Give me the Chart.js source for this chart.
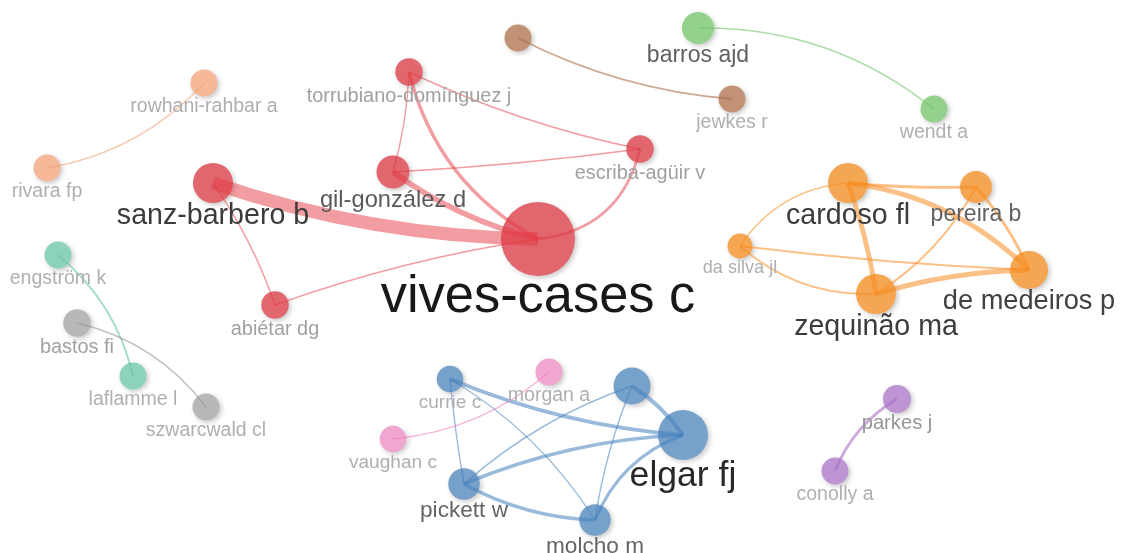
<!DOCTYPE html>
<html>
<head>
<meta charset="utf-8">
<script src="https://cdn.jsdelivr.net/npm/chart.js@4.4.1/dist/chart.umd.min.js"></script>
<style>
  html, body { margin: 0; padding: 0; background: #fff; }
  #wrap { width: 1125px; height: 553px; position: relative; }
</style>
</head>
<body>
<div id="wrap"><canvas id="chart"></canvas></div>
<script>
//////////////////////
// Nodes (authors)
//////////////////////
const labels = [
    "vives-cases c", "sanz-barbero b", "gil-gonzález d", "torrubiano-domínguez j", "escriba-agüir v", "abiétar dg",
    "cardoso fl", "pereira b", "da silva jl", "de medeiros p", "zequinão ma",
    "elgar fj", "currie c", "", "pickett w", "molcho m",
    "morgan a", "vaughan c", "parkes j", "conolly a", "barros ajd", "wendt a",
    "", "jewkes r", "rowhani-rahbar a", "rivara fp", "engström k", "laflamme l",
    "bastos fi", "szwarcwald cl"
];
const xs = [538, 213, 393, 409, 640, 275, 848, 976, 740, 1029, 876, 683, 450, 632, 464, 595, 549, 393, 897, 835, 698, 934, 518, 732, 204, 47, 58, 133, 77, 206];
const ys = [239, 183, 172, 72, 149, 305, 183, 187, 246, 270, 294, 435, 379, 386, 484, 520, 372, 439, 399, 471, 28, 109, 38, 99, 83, 168, 255, 376, 323, 407];
const weights = [10.4, 3.6, 2.2, 1.1, 1.1, 1.1, 3.6, 2, 0.6, 3.2, 3.6, 5.6, 0.9, 3, 1.9, 1.9, 1, 0.9, 1.2, 1, 2, 1, 1, 1, 1, 1, 1, 1, 1.1, 1];
const clusters = [0, 0, 0, 0, 0, 0, 1, 1, 1, 1, 1, 2, 2, 2, 2, 2, 3, 3, 4, 4, 5, 5, 6, 6, 7, 7, 8, 8, 9, 9];

//////////////////////
// Links (co-authorship)
//////////////////////
const linkFrom     = [1, 2, 3, 0, 0, 5, 2, 2, 3,   6, 9, 10, 6, 9, 10, 8, 8, 9,   12, 12, 15, 11, 13, 13, 11, 11, 14,   17, 18, 21, 22, 25, 27, 29];
const linkTo       = [0, 0, 0, 4, 5, 1, 4, 3, 4,   7, 6, 6, 8, 7, 7, 9, 10, 10,   11, 14, 12, 13, 14, 15, 14, 15, 15,   16, 19, 20, 23, 24, 26, 28];
const linkStrength = [9.5, 4, 2.4, 2, 1, 1, 1, 1, 1,   2, 3.5, 3.5, 1, 2, 1.4, 1.3, 1.3, 3.5,   2.6, 1, 1, 2.8, 1.1, 1, 2.4, 2.2, 2.6,   1, 2, 1, 1.3, 1, 1.3, 1];

//////////////////////
// Styling
//////////////////////
const linkBend = [0.08, 0.1, 0.22, 0.35, 0.05, 0.07, 0.02, 0.06, 0.06,   0.03, 0.17, 0.05, 0.24, 0.08, 0.13, 0.02, 0.2, 0.07,   0.08, 0.02, 0.12, 0.1, 0.1, 0.06, 0.09, 0.22, 0.12,   0.16, 0.17, 0.18, 0.1, 0.17, 0.17, 0.18];
const nodeColors = ["#e1666e", "#f5a652", "#76a1ca", "#f0a6d0", "#bd95d2", "#93d18d", "#c19276", "#f5b899", "#8dd3bb", "#b8b8b8"];
const linkColors = [
    "rgba(228,60,70,0.5)", "rgba(245,140,35,0.55)", "rgba(70,130,190,0.55)", "rgba(235,130,190,0.6)",
    "rgba(170,110,200,0.6)", "rgba(110,195,105,0.6)", "rgba(170,110,75,0.6)", "rgba(242,160,120,0.6)",
    "rgba(100,195,165,0.6)", "rgba(150,150,150,0.6)"
];
const FONT = '"Liberation Sans", Arial, sans-serif';

function radius(w) { return 11 + 2.5 * w; }
function fontSize(w) { return 16 + 3.5 * w; }
function labelGray(w) { return Math.round(175 * Math.pow(Math.max(w, 1), -0.85)); }

//////////////////////
// Draw links and labels on top of the nodes
//////////////////////
const networkPlugin = {
    id: "network",
    beforeDatasetDraw(chart) {
        const ctx = chart.ctx;
        ctx.save();
        ctx.shadowColor = "rgba(0,0,0,0.22)";
        ctx.shadowBlur = 5;
        ctx.shadowOffsetX = 2;
        ctx.shadowOffsetY = 2;
    },
    afterDatasetDraw(chart) {
        chart.ctx.restore();
    },
    afterDatasetsDraw(chart) {
        const ctx = chart.ctx;
        const sx = chart.scales.x, sy = chart.scales.y;
        const px = i => sx.getPixelForValue(xs[i]);
        const py = i => sy.getPixelForValue(ys[i]);

        ctx.save();
        ctx.lineCap = "butt";
        linkFrom.forEach((a, k) => {
            const b = linkTo[k];
            const x1 = px(a), y1 = py(a), x2 = px(b), y2 = py(b);
            const dx = x2 - x1, dy = y2 - y1;
            const cx = (x1 + x2) / 2 - dy * linkBend[k];
            const cy = (y1 + y2) / 2 + dx * linkBend[k];
            ctx.beginPath();
            ctx.moveTo(x1, y1);
            ctx.quadraticCurveTo(cx, cy, x2, y2);
            ctx.strokeStyle = linkColors[clusters[a]];
            ctx.lineWidth = 1.4 * linkStrength[k];
            ctx.stroke();
        });

        // labels sit under their node
        ctx.textAlign = "center";
        ctx.textBaseline = "alphabetic";
        labels.forEach((name, i) => {
            if (!name) return;
            const w = weights[i];
            const size = fontSize(w);
            const g = labelGray(w);
            ctx.font = size.toFixed(1) + "px " + FONT;
            ctx.fillStyle = "rgb(" + g + "," + g + "," + g + ")";
            ctx.fillText(name, px(i), py(i) + radius(w) + 0.62 * size + 3.5);
        });
        ctx.restore();
    }
};

//////////////////////
// Chart
//////////////////////
const ctx = document.getElementById("chart").getContext("2d");
new Chart(ctx, {
    type: "bubble",
    data: {
        datasets: [{
            data: xs.map((x, i) => ({ x: x, y: ys[i], r: radius(weights[i]) })),
            backgroundColor: clusters.map(c => nodeColors[c]),
            borderWidth: 0,
            hoverRadius: 0,
            clip: false
        }]
    },
    options: {
        responsive: true,
        maintainAspectRatio: false,
        animation: false,
        layout: { padding: 0, autoPadding: false },
        events: [],
        scales: {
            x: { type: "linear", min: 0, max: 1125, display: false },
            y: { type: "linear", min: 0, max: 553, reverse: true, display: false }
        },
        plugins: {
            legend: { display: false },
            tooltip: { enabled: false }
        }
    },
    plugins: [networkPlugin]
});
</script>
</body>
</html>
